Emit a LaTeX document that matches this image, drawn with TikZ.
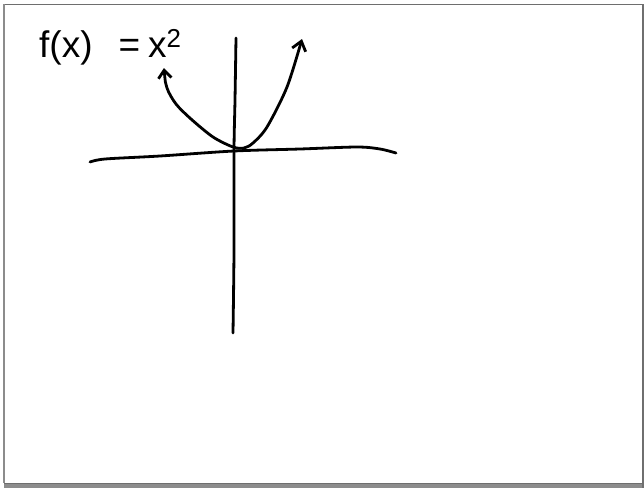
\documentclass[tikz,border=0pt]{standalone}
\usepackage{fontspec}
\setmainfont{Liberation Sans}
\usetikzlibrary{arrows.meta}
\definecolor{bingkai}{RGB}{110,110,110}
\definecolor{bayang}{RGB}{140,140,140}

\begin{document}
\begin{tikzpicture}[x=1pt, y=-1pt,
        pena/.style={line width=2.8pt, line cap=round, line join=round, black},
        tangan/.style={font=\fontsize{37}{37}\selectfont, inner sep=0pt}
    ]
        \useasboundingbox (0,0) rectangle (644,488);
        % bingkai halaman dan bayangannya
        \fill[white] (4,4) rectangle (642,483);
        \fill[bayang] (4,483) rectangle (644,488);
        \fill[bayang!80!black] (642,4) rectangle (644,488);
        \draw[bingkai, line width=1pt] (4,4) rectangle (642,483);
        \fill[bayang] (3,4) rectangle (5,483);
        % judul fungsi
        \node[tangan, anchor=base west] (judul) at (39,57) {f(x)\hspace{26pt}=\hspace{8pt}x\textsuperscript{2}};
        % sumbu
        \draw[pena] plot[smooth] coordinates {(236,38) (235,100) (234,151) (234,250) (233,333)};
        \draw[pena] plot[smooth] coordinates {(90,162) (105,159) (160,156) (234,151) (300,149) (357,147) (380,149) (396,153)};
        % parabola
        \draw[pena, {Straight Barb[length=8pt, width=13pt]}-{Straight Barb[length=9pt, width=14pt]}]
            plot[smooth] coordinates {(164,68) (167,88) (176,104) (191,119) (213,137) (233,147) (244,148) (253,143) (267,127) (287,87) (302,39)};
    \end{tikzpicture}
\end{document}
